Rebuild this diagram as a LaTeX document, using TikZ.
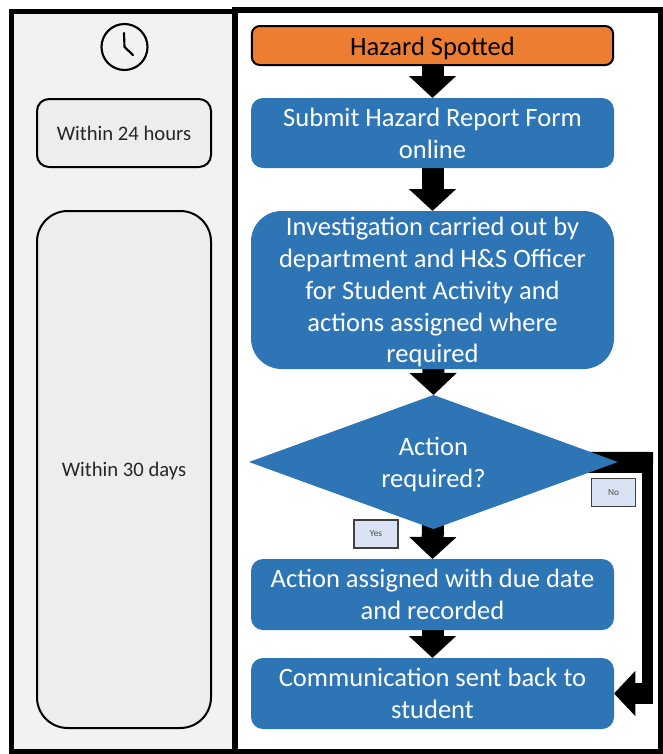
\documentclass[tikz,border=0pt]{standalone}
\usepackage{fontspec}
\setmainfont{Carlito}
\usetikzlibrary{shapes.geometric,arrows.meta,backgrounds}
\definecolor{stepblue}{HTML}{2E75B6}
\definecolor{startorange}{HTML}{ED7D31}
\definecolor{panelgrey}{HTML}{F2F2F2}
\definecolor{timegrey}{HTML}{EDEDED}
\definecolor{tagblue}{HTML}{DAE3F3}
\tikzset{
  panelbox/.style={draw=black,line width=4.2pt,rectangle,inner sep=0pt,outer sep=0pt},
  timebox/.style={draw=black,fill=timegrey,line width=1.5pt,rectangle,minimum width=130.5pt,text=black!85,text depth=0pt,font=\fontsize{15.5}{18}\selectfont},
  stepbox/.style={fill=stepblue,text=white,rectangle,align=center,minimum width=272.25pt,inner sep=0pt,outer sep=0pt,font=\fontsize{19.9}{23.9}\selectfont},
  tagbox/.style={draw=black!75,fill=tagblue,line width=0.9pt,rectangle,minimum width=33pt,minimum height=21pt,inner sep=0pt,text=black!70,font=\fontsize{7}{8}\selectfont},
  blockarrow/.style={line width=16.5pt,-{Triangle[length=16.5pt,width=34.5pt]}},
}
\begin{document}
\begin{tikzpicture}[x=0.75pt,y=-0.75pt]
\useasboundingbox (0,0) rectangle (663,754);
\node (timepanel) [panelbox,fill=panelgrey,minimum width=167.6pt,minimum height=555.4pt] at (123.25,381.75) {};
\node (steppanel) [panelbox,minimum width=319.1pt,minimum height=556.5pt] at (447.75,381) {};
% clock
\node (clock) [circle,draw=black,line width=1.6pt,minimum size=34.5pt,inner sep=0pt] at (124.5,47) {};
\draw [line width=1.6pt,line cap=round,line join=round] (124,33) -- (clock.center) -- (133,55);
\node (day) [timebox,rounded corners=9pt,minimum height=51pt] at (124,133) {Within 24 hours};
\node (month) [timebox,rounded corners=23pt,minimum height=387.75pt] at (124,469.5) {Within 30 days};
% steps
\node (hazard) [stepbox,draw=black,line width=1.5pt,fill=startorange,text=black,rounded corners=6pt,minimum height=29.25pt,minimum width=271pt,text height=19pt,text depth=4pt] at (432.5,45.5) {Hazard Spotted};
\node (submit) [stepbox,rounded corners=9pt,minimum height=52.5pt] at (432.5,133) {Submit Hazard Report Form\\online};
\node (investigate) [stepbox,rounded corners=23pt,minimum height=118.5pt,text depth=0pt] at (432.5,290) {Investigation carried out by\\department and H\&S Officer\\for Student Activity and\\actions assigned where\\required};
\node (action) [diamond,aspect=2.75,fill=stepblue,text=white,align=center,inner sep=0pt,outer sep=0pt,minimum width=276.75pt,minimum height=100.5pt,text depth=0pt,font=\fontsize{19.9}{23.9}\selectfont] at (433.5,462) {Action\\required?};
\node (assigned) [stepbox,rounded corners=9pt,minimum height=53.25pt] at (432.5,594.5) {Action assigned with due date\\and recorded};
\node (reply) [stepbox,rounded corners=9pt,minimum height=53.25pt] at (432.5,693.5) {Communication sent back to\\student};
\node (yes) [tagbox] at (376,534) {Yes};
\node (no) [tagbox] at (613.5,492.5) {No};
\coordinate (notop) at (653,462.5);
\coordinate (nobottom) at (653,693.5);
\coordinate (noout) at (653,452);
\coordinate (noin) at (642,704);
% arrows sit behind the shapes
\begin{scope}[on background layer]
\draw [blockarrow] (hazard) -- (submit);
\draw [blockarrow] (submit) -- (investigate);
\draw [blockarrow] (investigate) -- (action.north);
\draw [blockarrow] (action.center) -- (assigned.north);
\draw [blockarrow] (assigned) -- (reply);
\draw [line width=15.75pt] (action.center) -- (notop);
\fill (noout) rectangle (noin);
\draw [line width=15.75pt,-{Triangle[length=16pt,width=33pt]}] (nobottom) -- (reply.east);
\end{scope}
\end{tikzpicture}
\end{document}
